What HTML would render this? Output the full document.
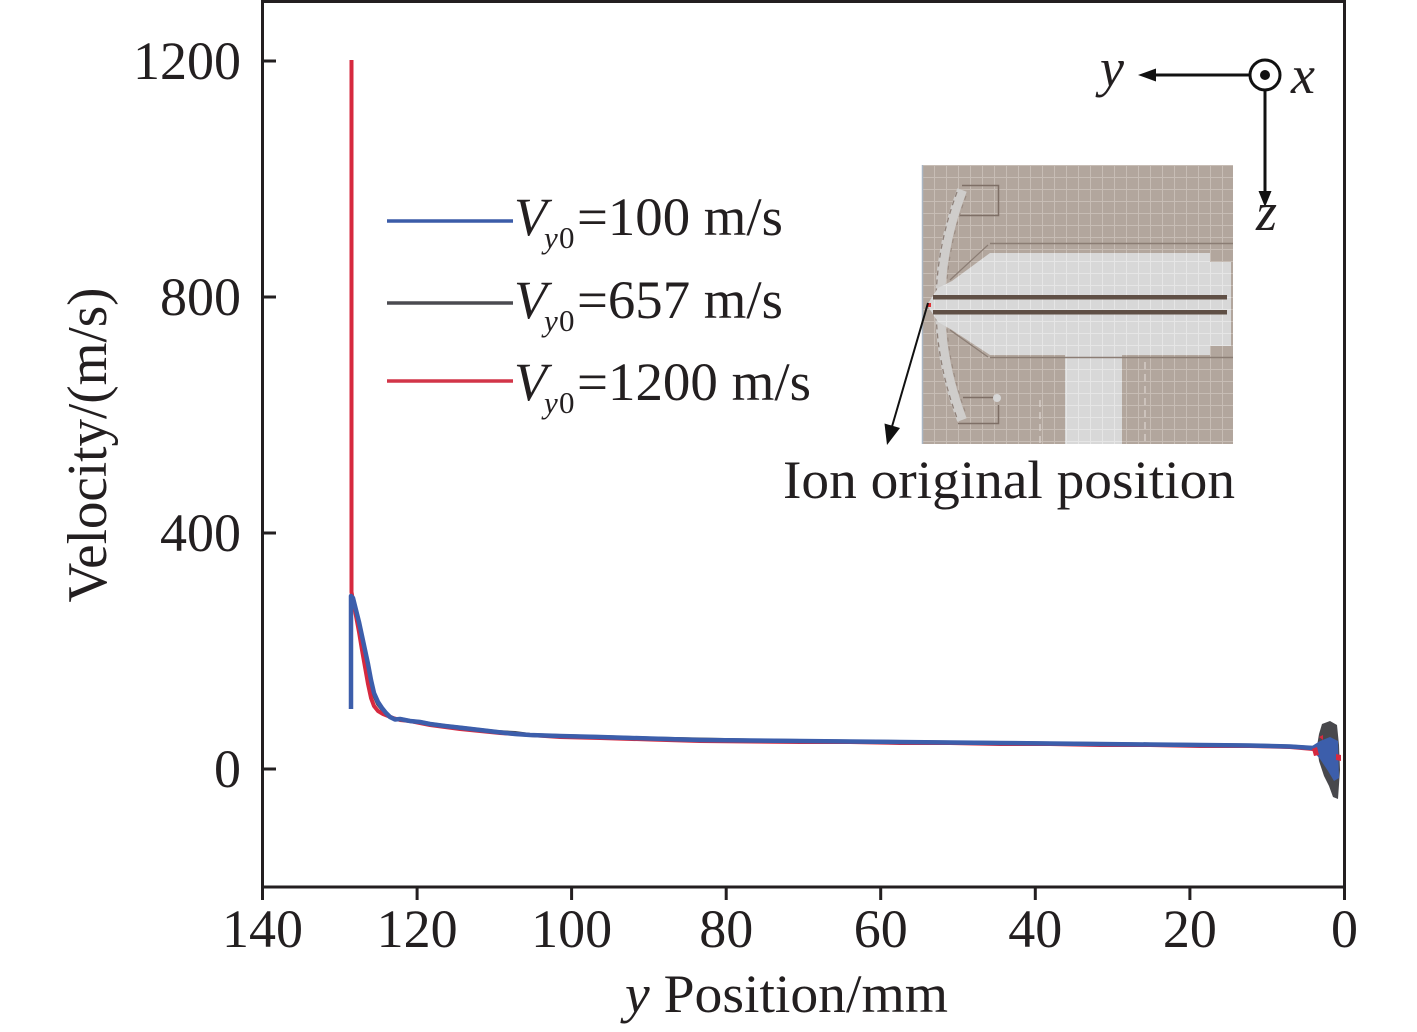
<!DOCTYPE html>
<html>
<head>
<meta charset="utf-8">
<style>
html,body{margin:0;padding:0;background:#fff;}
svg{display:block;}
text{font-family:"Liberation Serif","Times New Roman",serif;fill:#231f20;}
</style>
</head>
<body>
<svg width="1417" height="1032" viewBox="0 0 1417 1032" xmlns="http://www.w3.org/2000/svg">
<defs>
  <pattern id="gt" width="12" height="12" patternUnits="userSpaceOnUse" x="922" y="165">
    <rect width="12" height="12" fill="#b2a69d"/>
    <path d="M0 0.5H12M0.5 0V12" stroke="#c7bdb5" stroke-width="1"/>
  </pattern>
  <pattern id="gl" width="12" height="12" patternUnits="userSpaceOnUse" x="922" y="165">
    <rect width="12" height="12" fill="#d8d8d8"/>
    <path d="M0 0.5H12M0.5 0V12" stroke="#e6e6e6" stroke-width="1"/>
  </pattern>
</defs>

<!-- Inset image -->
<g>
  <rect x="922" y="165" width="311" height="279" fill="url(#gt)"/>
  <line x1="922.5" y1="165" x2="922.5" y2="444" stroke="#a9b6c4" stroke-width="1.5"/>
  <!-- left arc band -->
  <path d="M962 190 Q 918 305 962 420" fill="none" stroke="#cfcdcb" stroke-width="10"/>
  <path d="M957 192 Q 915 305 957 418" fill="none" stroke="#8f8179" stroke-width="1.3" stroke-dasharray="5 4"/>
  <path d="M966 196 Q 926 305 966 414" fill="none" stroke="#9a8c83" stroke-width="1.1" stroke-dasharray="4 5"/>
  <!-- main light body -->
  <polygon points="990,253 1210,253 1210,262 1231,262 1231,346 1210,346 1210,355 990,355 952,330 938,322 927,305 938,288 952,281" fill="url(#gl)"/>
  <!-- stem -->
  <rect x="1065" y="355" width="57" height="89" fill="url(#gl)"/>
  <!-- outline lines -->
  <path d="M990 243.5H1233M990 357.5H1233" stroke="#8b7d74" stroke-width="1.5"/>
  <path d="M988 245L950 280M950 330L988 357" stroke="#8b7d74" stroke-width="1.2"/>
  <!-- brackets -->
  <path d="M962 185.5H998.5V215.5H960" fill="none" stroke="#7e6f66" stroke-width="1.5"/>
  <path d="M963 397.5H998M958 423.5H998.5V405" fill="none" stroke="#7e6f66" stroke-width="1.5"/>
  <circle cx="997" cy="398" r="4" fill="#d6d6d6"/>
  <!-- faint dashed vertical lines -->
  <path d="M1145 362V444M1040 400V444" stroke="#ddd6d0" stroke-width="1.2" stroke-dasharray="7 5"/>
  <!-- rods -->
  <rect x="933" y="295" width="294" height="4.5" fill="#5f4f45"/>
  <rect x="933" y="310" width="294" height="4.5" fill="#5f4f45"/>
  <rect x="927" y="303" width="4" height="4" fill="#e03336"/>
</g>

<!-- Arrow to ion original position -->
<line x1="928" y1="303" x2="891" y2="430" stroke="#111" stroke-width="2"/>
<polygon points="887,445 900,428 884.5,423.5" fill="#111"/>
<text x="783" y="498" font-size="54" textLength="452" lengthAdjust="spacingAndGlyphs">Ion original position</text>

<!-- coordinate indicator -->
<text x="1100" y="86" font-size="54" font-style="italic">y</text>
<line x1="1150" y1="75" x2="1249" y2="75" stroke="#111" stroke-width="3"/>
<polygon points="1138,75 1156,68.5 1156,81.5" fill="#111"/>
<circle cx="1265" cy="75" r="15" fill="#fff" stroke="#111" stroke-width="3"/>
<circle cx="1265" cy="75" r="5" fill="#111"/>
<text x="1291" y="93" font-size="54" font-style="italic">x</text>
<line x1="1265" y1="90" x2="1265" y2="194" stroke="#111" stroke-width="3"/>
<polygon points="1265,207 1258.5,191 1271.5,191" fill="#111"/>
<text x="1256" y="230" font-size="54" font-style="italic">z</text>

<!-- Legend -->
<line x1="387" y1="221" x2="513" y2="221" stroke="#3b5ca8" stroke-width="3.5"/>
<line x1="387" y1="303" x2="513" y2="303" stroke="#4b4b50" stroke-width="3.5"/>
<line x1="387" y1="381" x2="513" y2="381" stroke="#d23548" stroke-width="3.5"/>

<text x="514" y="235" font-size="54" font-style="italic">V</text>
<text x="544" y="248" font-size="31" font-style="italic">y</text>
<text x="559" y="248" font-size="31">0</text>
<text x="577" y="235" font-size="54" textLength="206" lengthAdjust="spacingAndGlyphs">=100 m/s</text>

<text x="514" y="318" font-size="54" font-style="italic">V</text>
<text x="544" y="331" font-size="31" font-style="italic">y</text>
<text x="559" y="331" font-size="31">0</text>
<text x="577" y="318" font-size="54" textLength="206" lengthAdjust="spacingAndGlyphs">=657 m/s</text>

<text x="514" y="400" font-size="54" font-style="italic">V</text>
<text x="544" y="413" font-size="31" font-style="italic">y</text>
<text x="559" y="413" font-size="31">0</text>
<text x="577" y="400" font-size="54" textLength="234" lengthAdjust="spacingAndGlyphs">=1200 m/s</text>

<!-- Data series -->
<!-- gray -->
<polyline fill="none" stroke="#4b4b50" stroke-width="4" stroke-linejoin="round"
  points="351,709 351,597 353,599 356,612 359,624 362,638 365,652 368,666 371,682 374,695 378,704 382,709 386,713 390,717 395,719 400,719 405,720 410,721 420,722 430,724 445,726 463,728 480,730 497,732 515,733 530,735 560,736 600,737 650,738.5 700,739.5 750,740.5 800,741 850,741.5 900,742 950,742.5 1000,743 1050,743.5 1100,744 1150,744.5 1200,745 1250,745.5 1290,746.5 1313,748"/>
<!-- red -->
<polyline fill="none" stroke="#d6293f" stroke-width="4" stroke-linejoin="round"
  points="351.5,60 351.5,592 353,601 356,616 359,632 362,650 365,667 368,684 371,698 374,706 378,711 383,714 388,716 393,718 400,720 410,721 430,725 460,729 500,733 560,737 600,738 650,739.5 700,741 750,741.5 800,742 850,742 900,743 950,743 1000,744 1050,744 1100,745 1150,745 1200,746 1250,746 1290,747 1313,749"/>
<!-- blue -->
<polyline fill="none" stroke="#3c5eab" stroke-width="4.5" stroke-linejoin="round"
  points="351,709 351,596 353,598 356,610 359,622 362,636 365,650 368,664 371,680 374,693 378,702 382,708 386,713 390,717 395,719.5 400,719 405,720 410,721 420,722 430,724 445,726 463,728 480,730 497,732 515,734 530,735 560,736 600,737 650,738.5 700,740 750,740.5 800,741 850,741.5 900,742 950,742.5 1000,743 1050,743.5 1100,744 1150,744.5 1200,745 1250,745.5 1290,746.5 1313,748"/>

<!-- end blob -->
<polygon points="1322,724 1330,721 1337,725 1339,745 1340,770 1338,799 1333,797 1329,786 1324,776 1319,761 1317,746 1319,734" fill="#48484c"/>
<polygon points="1312,746 1320,741 1330,737 1338,741 1339,778 1334,781 1328,771 1320,759 1313,751" fill="#3c5eab"/>
<polygon points="1312,749 1317,747 1319,755 1314,756" fill="#d6293f"/>
<polygon points="1336,754 1341,755 1341,761 1336,760" fill="#d6293f"/>
<polygon points="1319,737 1323,735 1323,740" fill="#d6293f"/>

<!-- Frame -->
<rect x="262.5" y="1.5" width="1082" height="885.5" fill="none" stroke="#231f20" stroke-width="3"/>

<!-- Y ticks (inward) -->
<g stroke="#231f20" stroke-width="3">
  <line x1="262.5" y1="61" x2="276" y2="61"/>
  <line x1="262.5" y1="297" x2="276" y2="297"/>
  <line x1="262.5" y1="533" x2="276" y2="533"/>
  <line x1="262.5" y1="769" x2="276" y2="769"/>
</g>
<!-- X ticks (outward) -->
<g stroke="#231f20" stroke-width="3">
  <line x1="262.5" y1="887" x2="262.5" y2="900"/>
  <line x1="417.1" y1="887" x2="417.1" y2="900"/>
  <line x1="571.6" y1="887" x2="571.6" y2="900"/>
  <line x1="726.2" y1="887" x2="726.2" y2="900"/>
  <line x1="880.7" y1="887" x2="880.7" y2="900"/>
  <line x1="1035.3" y1="887" x2="1035.3" y2="900"/>
  <line x1="1189.9" y1="887" x2="1189.9" y2="900"/>
  <line x1="1344.5" y1="887" x2="1344.5" y2="900"/>
</g>

<!-- Y tick labels -->
<g font-size="54" text-anchor="end">
  <text x="241" y="79">1200</text>
  <text x="241" y="315">800</text>
  <text x="241" y="551">400</text>
  <text x="241" y="787">0</text>
</g>
<!-- X tick labels -->
<g font-size="54" text-anchor="middle">
  <text x="262.5" y="947">140</text>
  <text x="417.1" y="947">120</text>
  <text x="571.6" y="947">100</text>
  <text x="726.2" y="947">80</text>
  <text x="880.7" y="947">60</text>
  <text x="1035.3" y="947">40</text>
  <text x="1189.9" y="947">20</text>
  <text x="1344.5" y="947">0</text>
</g>

<!-- Axis titles -->
<text x="625" y="1012" font-size="54" textLength="323" lengthAdjust="spacingAndGlyphs"><tspan font-style="italic">y</tspan> Position/mm</text>
<text transform="translate(106,445) rotate(-90)" x="0" y="0" font-size="56" text-anchor="middle" textLength="315" lengthAdjust="spacingAndGlyphs">Velocity/(m/s)</text>
</svg>
</body>
</html>
